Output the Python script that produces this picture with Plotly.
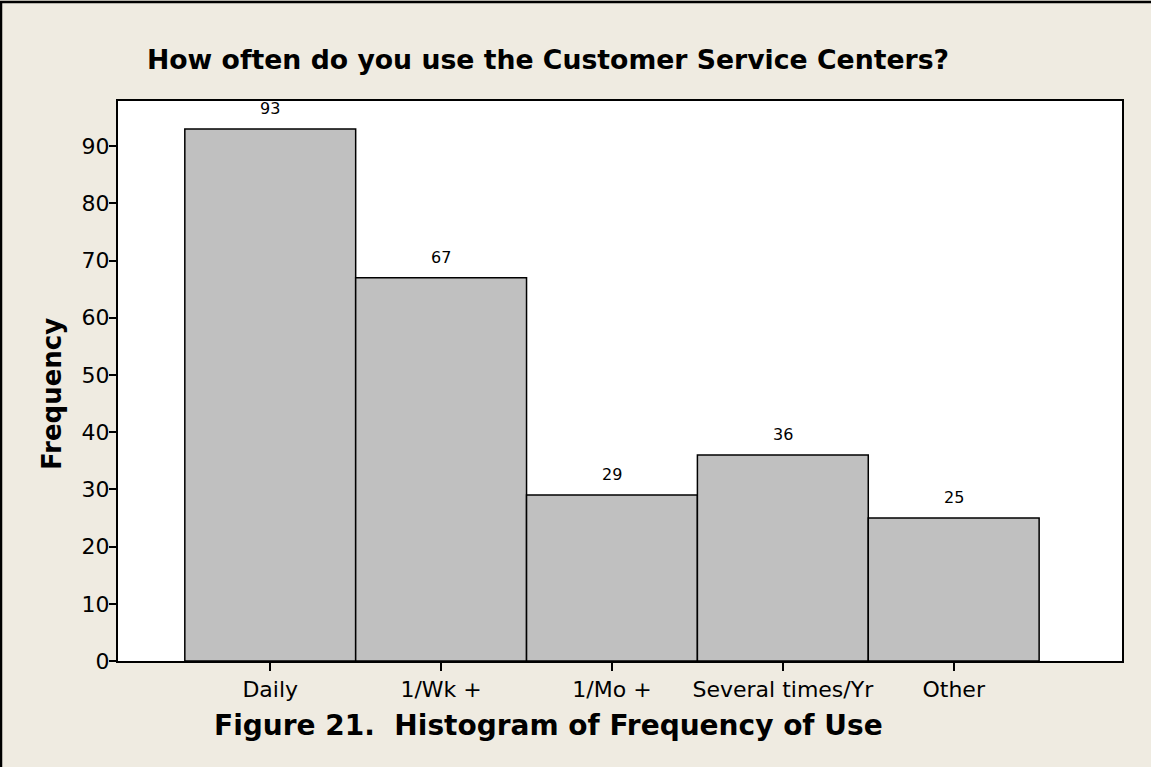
import plotly.graph_objects as go

categories = ["Daily", "1/Wk +", "1/Mo +", "Several times/Yr", "Other"]
frequency = [93, 67, 29, 36, 25]
y_ticks = [0, 10, 20, 30, 40, 50, 60, 70, 80, 90]

title_text = "How often do you use the Customer Service Centers?"
x_title = "Figure 21.&nbsp;&nbsp;Histogram of Frequency of Use"
y_title = "Frequency"

BG = "#EFEBE1"
FONT = "DejaVu Sans"

W, H = 1151, 767
L, R, T, B = 118, 29, 101, 106
pw, ph = W - L - R, H - T - B


def px_x(p):
    return (p - L) / pw


def px_y(p):
    return (H - B - p) / ph


fig = go.Figure(
    go.Bar(
        x=categories,
        y=frequency,
        width=1,
        marker=dict(color="#C0C0C0", line=dict(color="black", width=1.5)),
        cliponaxis=False,
        hoverinfo="x+y",
    )
)

annotations = [
    dict(
        x=c,
        y=v,
        xref="x",
        yref="y",
        text=str(v),
        showarrow=False,
        yanchor="bottom",
        yshift=9,
        font=dict(family=FONT, size=16, color="black"),
    )
    for c, v in zip(categories, frequency)
]

annotations.append(
    dict(
        xref="paper",
        yref="paper",
        x=px_x(548),
        y=px_y(725),
        xanchor="center",
        yanchor="middle",
        text="<b>" + x_title + "</b>",
        showarrow=False,
        font=dict(family=FONT, size=28, color="black"),
    )
)
annotations.append(
    dict(
        xref="paper",
        yref="paper",
        x=px_x(52),
        y=px_y(394),
        xanchor="center",
        yanchor="middle",
        textangle=-90,
        text="<b>" + y_title + "</b>",
        showarrow=False,
        font=dict(family=FONT, size=26, color="black"),
    )
)

fig.update_layout(
    width=W,
    height=H,
    margin=dict(l=L, r=R, t=T, b=B, autoexpand=False),
    paper_bgcolor=BG,
    plot_bgcolor="white",
    showlegend=False,
    font=dict(family=FONT, color="black"),
    annotations=annotations,
    title=dict(
        text="<b>" + title_text + "</b>",
        font=dict(family=FONT, size=26.7, color="black"),
        xref="paper",
        x=px_x(548),
        xanchor="center",
        y=1 - 60 / H,
        yanchor="middle",
    ),
    shapes=[
        dict(
            type="rect",
            xref="paper",
            yref="paper",
            x0=px_x(1),
            x1=px_x(1300),
            y0=px_y(900),
            y1=px_y(2),
            line=dict(color="black", width=2.5),
            fillcolor="rgba(0,0,0,0)",
            layer="below",
        )
    ],
)

fig.update_xaxes(
    range=[-0.891, 4.985],
    showline=True,
    mirror=True,
    linecolor="black",
    linewidth=2,
    ticks="outside",
    ticklen=8,
    tickwidth=1.5,
    tickcolor="black",
    tickfont=dict(family=FONT, size=22, color="black"),
    showgrid=False,
)

fig.update_yaxes(
    range=[0, 97.9],
    tickvals=y_ticks,
    showline=True,
    mirror=True,
    linecolor="black",
    linewidth=2,
    ticks="outside",
    ticklen=7,
    tickwidth=1.5,
    tickcolor="black",
    ticklabelstandoff=-5,
    tickfont=dict(family=FONT, size=22, color="black"),
    showgrid=False,
    zeroline=False,
)

fig.write_html(
    "out.html",
    config={"displayModeBar": False},
    post_script="document.body.style.margin='0';document.body.style.overflow='hidden';",
)
